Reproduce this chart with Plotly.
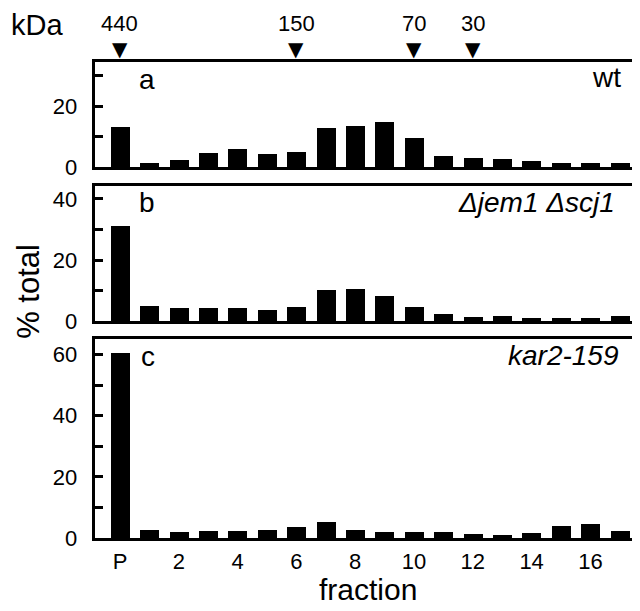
import plotly.graph_objects as go

fractions = list(range(18))
tick_vals = [0, 2, 4, 6, 8, 10, 12, 14, 16]
tick_text = ["P", "2", "4", "6", "8", "10", "12", "14", "16"]

wt = [13.2, 1.6, 2.4, 4.8, 6.0, 4.4, 5.0, 13.0, 13.6, 14.8, 9.6, 3.8, 3.2, 2.6, 2.0, 1.5, 1.5, 1.5]
jem_scj = [31.3, 5.0, 4.4, 4.4, 4.4, 3.6, 4.8, 10.4, 10.5, 8.2, 4.8, 2.5, 1.4, 1.9, 1.0, 1.0, 1.0, 1.7]
kar2 = [60.3, 2.6, 2.1, 2.2, 2.4, 2.5, 3.5, 5.4, 2.6, 2.0, 2.0, 2.1, 1.3, 0.9, 1.6, 3.8, 4.5, 2.4]

marker_fracs = [0, 6, 10, 12]
marker_kda = ["440", "150", "70", "30"]

W, H = 640, 611
FONT = "Liberation Sans, Arial, sans-serif"

def px(x):
    return x / W

def py(y):
    return 1 - y / H

fig = go.Figure()
panels = [("x", "y", wt), ("x2", "y2", jem_scj), ("x3", "y3", kar2)]
for xa, ya, vals in panels:
    fig.add_trace(go.Bar(x=fractions, y=vals, xaxis=xa, yaxis=ya,
                         marker=dict(color="black", line=dict(width=0)),
                         width=0.65, showlegend=False))

xdom = [px(86.7), px(633)]
ydoms = [[py(162.7), py(55)], [py(320), py(181.7)], [py(541.7), py(338.3)]]
yranges = [[0, 34.6], [0, 44.3], [0, 65]]
ytv = [[0, 10, 20, 30], [0, 10, 20, 30, 40], [0, 10, 20, 30, 40, 50, 60]]
ytt = [["0", "", "20", ""], ["0", "", "20", "", "40"], ["0", "", "20", "", "40", "", "60"]]

axcommon = dict(showline=True, linewidth=3, linecolor="black", mirror=True,
                showgrid=False, zeroline=False)
layout = {}
for i in range(3):
    xs = "xaxis" if i == 0 else f"xaxis{i+1}"
    ys = "yaxis" if i == 0 else f"yaxis{i+1}"
    yid = "y" if i == 0 else f"y{i+1}"
    xid = "x" if i == 0 else f"x{i+1}"
    layout[xs] = dict(domain=xdom, range=[-0.86, 17.72], anchor=yid,
                      tickvals=tick_vals if i == 2 else [],
                      ticktext=tick_text if i == 2 else [],
                      ticks="", ticklabelstandoff=1,
                      tickfont=dict(size=22, color="black", family=FONT),
                      **axcommon)
    layout[ys] = dict(domain=ydoms[i], range=yranges[i], anchor=xid,
                      tickvals=ytv[i], ticktext=ytt[i], ticks="inside",
                      ticklen=8, tickwidth=3, tickcolor="black",
                      ticklabelstandoff=10,
                      tickfont=dict(size=22, color="black", family=FONT),
                      **axcommon)
fig.update_layout(**layout)

ann = []
def add(text, x, y, size, italic=False, xanchor="center", **kw):
    t = f"<i>{text}</i>" if italic else text
    d = dict(text=t, x=x, y=y, xref="paper", yref="paper", showarrow=False,
             xanchor=xanchor, yanchor="middle",
             font=dict(size=size, color="black", family=FONT))
    d.update(kw)
    ann.append(d)

add("kDa", px(29), py(17), 29)
for f, lab in zip(marker_fracs, marker_kda):
    ann.append(dict(text=lab, x=f, y=py(16), xref="x", yref="paper", showarrow=False,
                    xanchor="center", yanchor="middle",
                    font=dict(size=22, color="black", family=FONT)))
    ann.append(dict(text="▼", x=f, y=py(42), xref="x", yref="paper", showarrow=False,
                    xanchor="center", yanchor="middle",
                    font=dict(size=20, color="black", family="DejaVu Sans")))

add("a", px(139), py(73), 28)
add("b", px(139), py(199), 28)
add("c", px(140), py(356), 28)
add("wt", px(615), py(71), 28, xanchor="right")
add("Δjem1 Δscj1", px(609), py(199), 28, italic=True, xanchor="right")
add("kar2-159", px(613), py(355), 28, italic=True, xanchor="right")
add("% total", px(21), py(290), 31, textangle=-90)
add("fraction", px(360), py(594), 30, yanchor="middle")

fig.update_layout(width=W, height=H, margin=dict(l=0, r=0, t=0, b=0),
                  paper_bgcolor="white", plot_bgcolor="white",
                  bargap=0, annotations=ann, font=dict(family=FONT, color="black"))

fig.write_html("out.html")
